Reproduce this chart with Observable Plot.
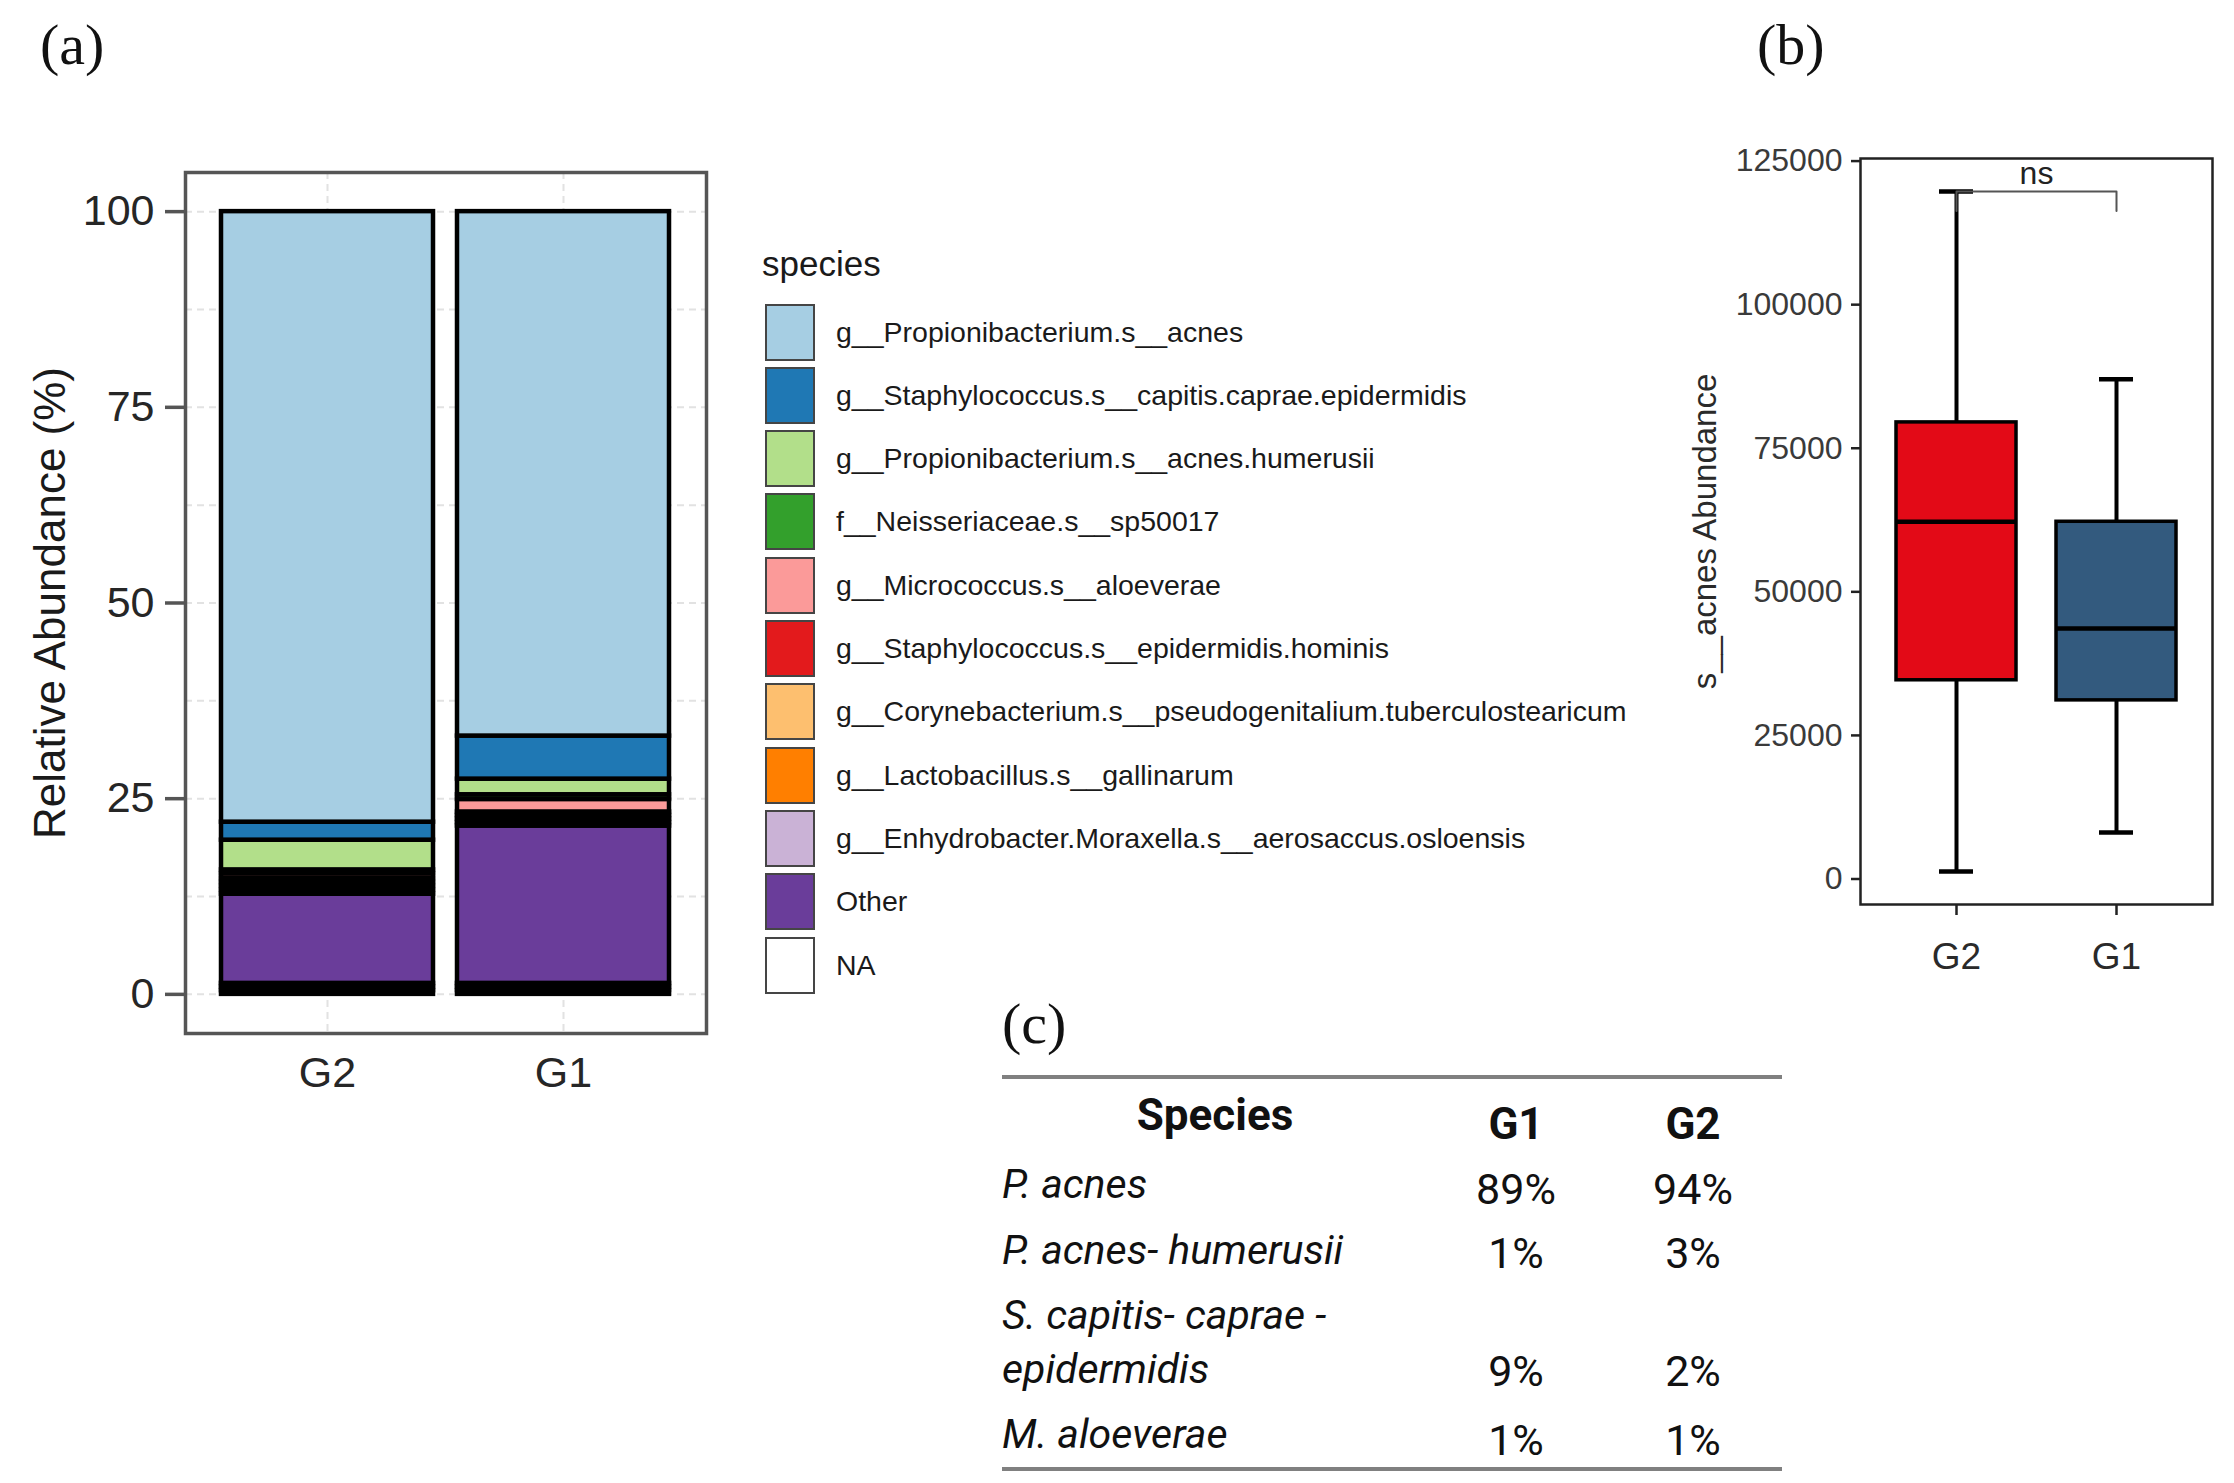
<!DOCTYPE html>
<html><head><meta charset="utf-8">
<script src="https://cdn.jsdelivr.net/npm/d3@7"></script>
<script src="https://cdn.jsdelivr.net/npm/@observablehq/plot@0.6"></script>
<style>
html,body{margin:0;padding:0;background:#fff;}
#fig{position:relative;width:2234px;height:1483px;overflow:hidden;background:#fff;}
.abs{position:absolute;}
.plabel{position:absolute;font-family:"Liberation Serif","Times New Roman",serif;font-size:58px;line-height:58px;color:#111;}
.legkey{position:absolute;box-sizing:border-box;border:2.5px solid #454545;width:50px;height:57px;}
.leglab{position:absolute;font-family:"Liberation Sans",Arial,sans-serif;font-size:28.5px;height:57px;line-height:57px;color:#1a1a1a;white-space:nowrap;}
#tbl{position:absolute;left:1002px;top:1075px;width:780px;border-collapse:separate;border-spacing:0;
  border-top:4px solid #808080;border-bottom:4px solid #808080;font-family:Roboto,"Noto Sans",sans-serif;color:#111;table-layout:fixed;}
#tbl td,#tbl th{padding:0;line-height:54px;}
#tbl th{font-weight:700;font-size:44px;text-align:center;vertical-align:middle;}
#tbl td.name{font-style:italic;font-size:41px;text-align:left;vertical-align:middle;white-space:pre-line;}
#tbl td.val{font-size:43px;text-align:center;}
</style></head>
<body><div id="fig"></div>
<script>
// ---------- Panel (a): relative abundance (stacked bars) ----------
const groupsA = ["G2", "G1"];
const speciesNames = [
  "g__Propionibacterium.s__acnes",
  "g__Staphylococcus.s__capitis.caprae.epidermidis",
  "g__Propionibacterium.s__acnes.humerusii",
  "f__Neisseriaceae.s__sp50017",
  "g__Micrococcus.s__aloeverae",
  "g__Staphylococcus.s__epidermidis.hominis",
  "g__Corynebacterium.s__pseudogenitalium.tuberculostearicum",
  "g__Lactobacillus.s__gallinarum",
  "g__Enhydrobacter.Moraxella.s__aerosaccus.osloensis",
  "Other",
  "NA"
];
const speciesColors = ["#A6CEE3","#1F78B4","#B2DF8A","#33A02C","#FB9A99","#E31A1C","#FDBF6F","#FF7F00","#CAB2D6","#6A3D9A","#FFFFFF"];
// % per species in legend order (acnes ... Other)
const abundG2 = [78.0, 2.3, 3.8, 0.5, 0.6, 0.5, 0.5, 0.5, 0.5, 11.4];
const abundG1 = [67.0, 5.5, 2.0, 0.6, 1.6, 0.45, 0.45, 0.45, 0.45, 20.1];
// unassigned (NA) records, several small rows per group
const naG2 = [0.47, 0.47, 0.46];
const naG1 = [0.47, 0.47, 0.46];
const yTicksA = [0, 25, 50, 75, 100];
const gridA = [0, 12.5, 25, 37.5, 50, 62.5, 75, 87.5, 100];
const yTitleA = "Relative Abundance (%)";
const legendTitle = "species";

// ---------- Panel (b): s__acnes abundance boxplot ----------
const groupsB = ["G2", "G1"];
const whiskerLow = [1300, 8100];
const q1 = [34600, 31100];
const med = [62200, 43600];
const q3 = [79500, 62200];
const whiskerHigh = [119700, 87000];
const boxColors = ["#E30A17", "#335A7E"];
const yTicksB = [0, 25000, 50000, 75000, 100000, 125000];
const yTitleB = "s__acnes Abundance";
const sigLabel = "ns";
const sigY = 119700, sigTip = 116300, sigTextY = 122800;

// ---------- Panel (c): table ----------
const tableHeader = ["Species", "G1", "G2"];
const tableSpecies = ["P. acnes", "P. acnes- humerusii", "S. capitis- caprae -\nepidermidis", "M. aloeverae"];
const tableG1 = ["89%", "1%", "9%", "1%"];
const tableG2 = ["94%", "3%", "2%", "1%"];

const fig = document.getElementById("fig");
const SANS = "'Liberation Sans', Arial, sans-serif";

// rows for stacked bars: bottom first (NA, Other, ..., acnes)
const rowsA = [];
[[groupsA[0], abundG2, naG2], [groupsA[1], abundG1, naG1]].forEach(([g, vals, na]) => {
  na.forEach(v => rowsA.push({group: g, species: "NA", value: v}));
  for (let i = vals.length - 1; i >= 0; i--) rowsA.push({group: g, species: speciesNames[i], value: vals[i]});
});

const plotA = Plot.plot({
  width: 720, height: 1110,
  marginLeft: 185, marginRight: 14, marginTop: 172, marginBottom: 77,
  style: {fontFamily: SANS, fontSize: "43px", color: "#262626", background: "transparent", overflow: "visible"},
  x: {domain: groupsA, paddingInner: 0.1, paddingOuter: 0.15, label: null},
  y: {domain: [-5, 105], label: null},
  color: {domain: speciesNames, range: speciesColors},
  marks: [
    Plot.ruleY(gridA, {stroke: "#e2e2e2", strokeWidth: 2, strokeDasharray: "7 5"}),
    Plot.ruleX(groupsA, {stroke: "#e2e2e2", strokeWidth: 2, strokeDasharray: "7 5"}),
    Plot.barY(rowsA, {x: "group", y: "value", fill: "species", stroke: "#000", strokeWidth: 4.5}),
    Plot.frame({stroke: "#555", strokeWidth: 3.5}),
    Plot.axisY({ticks: yTicksA, tickSize: 20, tickPadding: 11, stroke: "#555", strokeWidth: 3.5, fill: "#262626", fontSize: 43, label: null}),
    Plot.axisX({tickSize: 0, tickPadding: 23, fill: "#262626", fontSize: 43, label: null}),
    Plot.text([yTitleA], {frameAnchor: "left", dx: -135, rotate: -90, textAnchor: "middle", lineAnchor: "middle", fontSize: 44, fill: "#1a1a1a"})
  ]
});
plotA.style.position = "absolute"; plotA.style.left = "0px"; plotA.style.top = "0px";
fig.appendChild(plotA);

// legend
const lt = document.createElement("div");
lt.className = "abs";
Object.assign(lt.style, {left: "762px", top: "244px", fontFamily: SANS, fontSize: "35px", lineHeight: "40px", color: "#1a1a1a"});
lt.textContent = legendTitle;
fig.appendChild(lt);
speciesNames.forEach((s, i) => {
  const top = 303.5 + i * 63.3;
  const k = document.createElement("div");
  k.className = "legkey";
  k.style.left = "765px"; k.style.top = top + "px"; k.style.background = speciesColors[i];
  fig.appendChild(k);
  const l = document.createElement("div");
  l.className = "leglab";
  l.style.left = "836px"; l.style.top = top + "px";
  l.textContent = s;
  fig.appendChild(l);
});

// ---------- Panel (b) ----------
const boxRows = groupsB.map((g, i) => ({group: g, lo: whiskerLow[i], q1: q1[i], med: med[i], q3: q3[i], hi: whiskerHigh[i]}));
const bracket = [
  {group: groupsB[0], y: sigTip}, {group: groupsB[0], y: sigY},
  {group: groupsB[1], y: sigY}, {group: groupsB[1], y: sigTip}
];
const plotB = Plot.plot({
  width: 594, height: 900,
  marginLeft: 220, marginRight: 22, marginTop: 58, marginBottom: 96,
  style: {fontFamily: SANS, fontSize: "32px", color: "#333", background: "transparent", overflow: "visible"},
  x: {domain: groupsB, paddingInner: 0.25, paddingOuter: 0.225, label: null},
  y: {domain: [-4440, 125450], label: null},
  color: {domain: groupsB, range: boxColors},
  marks: [
    Plot.ruleX(boxRows, {x: "group", y1: "lo", y2: "hi", stroke: "#000", strokeWidth: 4}),
    Plot.barY(boxRows, {x: "group", y1: "q1", y2: "q3", fill: "group", stroke: "#000", strokeWidth: 3.5}),
    Plot.tickY(boxRows, {x: "group", y: "med", stroke: "#000", strokeWidth: 4.5}),
    Plot.tickY(boxRows, {x: "group", y: "hi", stroke: "#000", strokeWidth: 4.5, insetLeft: 43, insetRight: 43}),
    Plot.tickY(boxRows, {x: "group", y: "lo", stroke: "#000", strokeWidth: 4.5, insetLeft: 43, insetRight: 43}),
    Plot.line(bracket, {x: "group", y: "y", stroke: "#555", strokeWidth: 2}),
    Plot.text([{y: sigTextY, t: sigLabel}], {y: "y", text: "t", fontSize: 32, fill: "#222"}),
    Plot.frame({stroke: "#222", strokeWidth: 2.5}),
    Plot.axisY({ticks: yTicksB, tickFormat: "d", tickSize: 9, tickPadding: 9, stroke: "#222", strokeWidth: 2.5, fill: "#3a3a3a", fontSize: 32, label: null}),
    Plot.axisX({tickSize: 11, tickPadding: 27, stroke: "#222", strokeWidth: 2.5, fill: "#2a2a2a", fontSize: 37, label: null}),
    Plot.text([yTitleB], {frameAnchor: "left", dx: -155, rotate: -90, textAnchor: "middle", lineAnchor: "middle", fontSize: 33, fill: "#2a2a2a"})
  ]
});
plotB.style.position = "absolute"; plotB.style.left = "1640px"; plotB.style.top = "100px";
fig.appendChild(plotB);

// ---------- panel labels ----------
[["(a)", 40, 16], ["(b)", 1757, 16], ["(c)", 1002, 995]].forEach(([t, x, y]) => {
  const d = document.createElement("div");
  d.className = "plabel"; d.style.left = x + "px"; d.style.top = y + "px"; d.textContent = t;
  fig.appendChild(d);
});

// ---------- Panel (c) table ----------
const tbl = document.createElement("table");
tbl.id = "tbl";
const cg = document.createElement("colgroup");
[426, 176, 178].forEach(w => { const c = document.createElement("col"); c.style.width = w + "px"; cg.appendChild(c); });
tbl.appendChild(cg);
const rowHeights = [66, 66, 118, 56];
const valPad = [["padding-top", 10], ["padding-top", 6], ["padding-bottom", 3], ["padding-top", 12]];
const valAlign = ["middle", "middle", "bottom", "middle"];
const hr = document.createElement("tr"); hr.style.height = "72px";
tableHeader.forEach((h, j) => {
  const th = document.createElement("th"); th.textContent = h;
  if (j > 0) th.style.paddingTop = "18px";
  hr.appendChild(th);
});
tbl.appendChild(hr);
tableSpecies.forEach((s, i) => {
  const tr = document.createElement("tr"); tr.style.height = rowHeights[i] + "px";
  const td = document.createElement("td"); td.className = "name"; td.textContent = s; tr.appendChild(td);
  [tableG1[i], tableG2[i]].forEach(v => {
    const c = document.createElement("td"); c.className = "val"; c.textContent = v;
    c.style.verticalAlign = valAlign[i];
    c.style.setProperty(valPad[i][0], valPad[i][1] + "px");
    tr.appendChild(c);
  });
  tbl.appendChild(tr);
});
fig.appendChild(tbl);
</script>
</body></html>
